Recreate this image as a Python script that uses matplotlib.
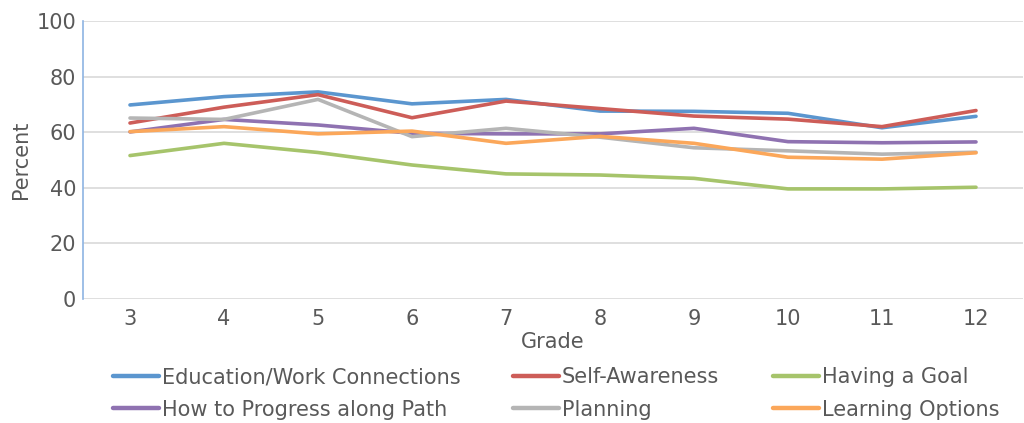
import numpy as np
import matplotlib
matplotlib.use('Agg')
import matplotlib.pyplot as plt

#==============================================================================#
#                               Data
#==============================================================================#
grades = [3, 4, 5, 6, 7, 8, 9, 10, 11, 12]

edu_work = [69.8, 72.8, 74.5, 70.2, 71.8, 67.6, 67.5, 66.8, 61.6, 65.7]
self_aware = [63.3, 69.0, 73.5, 65.2, 71.2, 68.5, 65.8, 64.7, 62.0, 67.8]
having_goal = [51.6, 56.0, 52.7, 48.2, 45.0, 44.6, 43.4, 39.6, 39.6, 40.2]
progress_path = [60.1, 64.6, 62.6, 59.6, 59.4, 59.4, 61.4, 56.6, 56.2, 56.5]
planning = [65.1, 64.6, 71.8, 58.4, 61.4, 58.2, 54.4, 53.3, 52.1, 52.8]
learning_opts = [60.2, 62.0, 59.4, 60.4, 56.0, 58.5, 56.0, 51.0, 50.3, 52.6]

labels = ['Education/Work Connections', 'Self-Awareness', 'Having a Goal',
          'How to Progress along Path', 'Planning', 'Learning Options']
colors = ['#5B96CF', '#CD5D58', '#A6C46B', '#8F72B1', '#B5B5B5', '#FBA75A']

#==============================================================================#
#                               Plot
#==============================================================================#
plt.rcParams['font.family'] = 'DejaVu Sans'
txt = '#595959'

fig = plt.figure(figsize=(10.24, 4.23), dpi=100)
ax = fig.add_axes([83/1024, 1 - 299/423, 940/1024, 278/423])

series = [edu_work, self_aware, having_goal, progress_path, planning, learning_opts]
lines = []
for vals, lab, col in zip(series, labels, colors):
    ln, = ax.plot(grades, vals, color=col, lw=2.6, label=lab, solid_capstyle='round')
    lines.append(ln)

ax.set_xlim(2.5, 12.5)
ax.set_ylim(0, 100)
ax.set_yticks(np.arange(0, 101, 20))
ax.set_xticks(grades)
ax.grid(axis='y', color='#D9D9D9', lw=1.2)
ax.set_axisbelow(True)
for s in ['top', 'right', 'bottom']:
    ax.spines[s].set_visible(False)
ax.spines['left'].set_color('#8EB4E3')
ax.spines['left'].set_linewidth(1.2)
ax.tick_params(axis='both', length=0, labelsize=15, labelcolor=txt)
ax.tick_params(axis='y', pad=5)
ax.tick_params(axis='x', pad=7)

ax.set_xlabel('Grade', fontsize=15, color=txt, labelpad=2)
ax.set_ylabel('Percent', fontsize=15, color=txt, labelpad=4)

# legend: three columns placed like the reference, two rows each
col_x = [113, 513, 773]
for i, x0 in enumerate(col_x):
    leg = fig.legend(handles=[lines[i], lines[i + 3]], loc='upper left',
                     bbox_to_anchor=(x0/1024, 1 - 367/423), ncol=1,
                     frameon=False, fontsize=15, handlelength=2.2,
                     handletextpad=0.15, labelspacing=0.6, borderpad=0,
                     borderaxespad=0, labelcolor=txt)
    for line in leg.get_lines():
        line.set_linewidth(3.2)

plt.savefig('out.png', dpi=100)
